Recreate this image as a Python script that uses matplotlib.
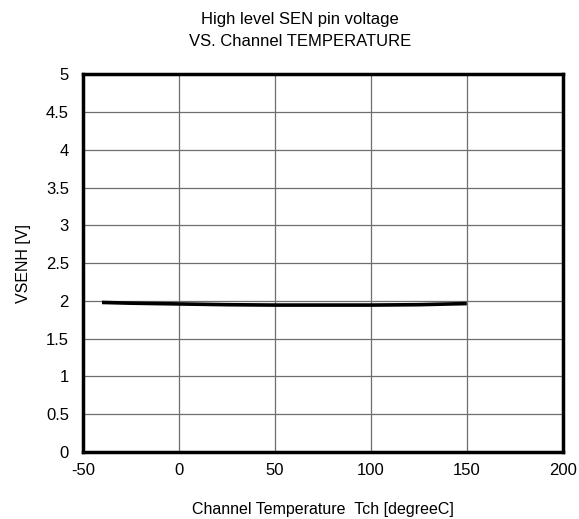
import matplotlib
matplotlib.use("Agg")
import matplotlib.pyplot as plt

# Data.
temperature = [-40, -25, 0, 25, 50, 75, 100, 125, 150]
vsenh = [1.98, 1.97, 1.96, 1.95, 1.945, 1.945, 1.945, 1.95, 1.965]
x_ticks = [-50, 0, 50, 100, 150, 200]
y_ticks = [0, 0.5, 1, 1.5, 2, 2.5, 3, 3.5, 4, 4.5, 5]
y_labels = ["0", "0.5", "1", "1.5", "2", "2.5", "3", "3.5", "4", "4.5", "5"]

plt.rcParams['font.family'] = ['Liberation Sans', 'DejaVu Sans']
plt.rcParams['axes.unicode_minus'] = False

fig = plt.figure(figsize=(5.79, 5.19), dpi=100)
ax = fig.add_axes([0.143, 0.129, 0.829, 0.728])

ax.plot(temperature, vsenh, color="black", linewidth=2.6, solid_capstyle="butt")

ax.set_xlim(-50, 200)
ax.set_ylim(0, 5)
ax.set_xticks(x_ticks)
ax.set_yticks(y_ticks)
ax.set_yticklabels(y_labels)
ax.grid(True, color="#6e6e6e", linewidth=0.9)
ax.set_axisbelow(True)
ax.tick_params(axis="x", length=0, labelsize=12, pad=8)
ax.tick_params(axis="y", length=0, labelsize=12, pad=10)

for s in ax.spines.values():
    s.set_linewidth(2.5)
    s.set_color("black")

ax.set_xlabel("Channel Temperature  Tch [degreeC]", fontsize=11.5, labelpad=17)
ax.set_ylabel("VSENH [V]", fontsize=11.5, labelpad=11)
fig.text(0.518, 0.963, "High level SEN pin voltage", ha="center", va="center", fontsize=12)
fig.text(0.518, 0.921, "VS. Channel TEMPERATURE", ha="center", va="center", fontsize=12)

fig.savefig("out.png", dpi=100)
